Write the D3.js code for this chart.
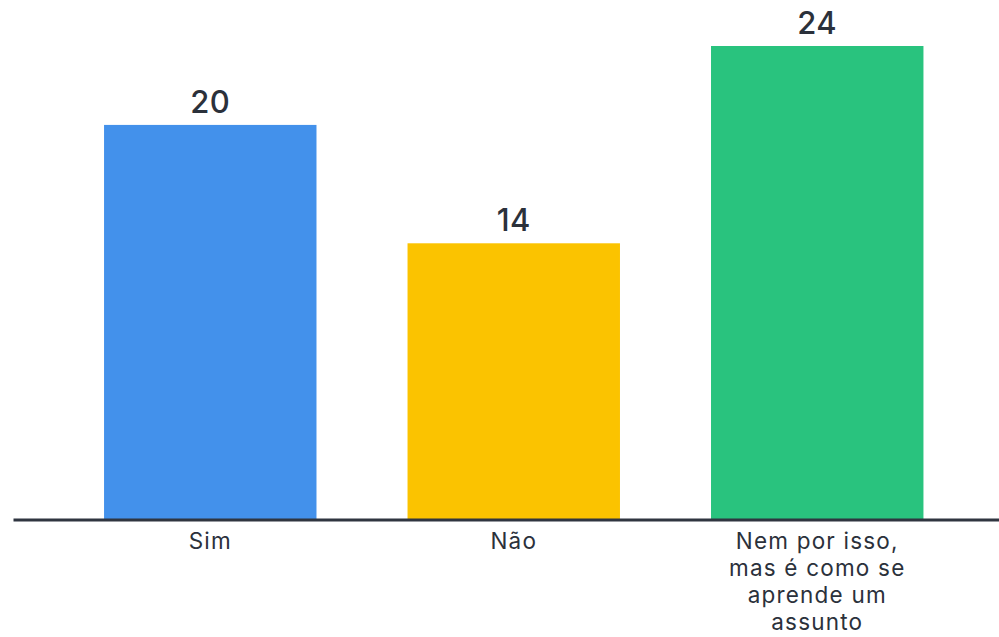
<!DOCTYPE html>
<html>
<head>
<meta charset="utf-8">
<script src="https://cdn.jsdelivr.net/npm/d3@7"></script>
<style>
  html, body { margin: 0; padding: 0; background: #ffffff; }
  svg { display: block; font-family: Inter, "Open Sans", sans-serif; }
</style>
</head>
<body>
<svg id="chart" width="999" height="637"></svg>
<script>
// Responses per answer
const categories = ["Sim", "Não", "Nem por isso, mas é como se aprende um assunto"];
const values = [20, 14, 24];
const colors = ["#4391eb", "#fbc300", "#29c37e"];

const svg = d3.select("#chart");
const baseY = 519.5;

const x = d3.scaleBand()
  .domain(categories)
  .range([13, 1014.5])
  .paddingInner(0.3)
  .paddingOuter(0.3);

const y = d3.scaleLinear()
  .domain([0, 24])
  .range([baseY, 46]);

// Bars
svg.append("g")
  .selectAll("rect")
  .data(categories)
  .join("rect")
  .attr("x", d => x(d))
  .attr("width", x.bandwidth())
  .attr("y", (d, i) => y(values[i]))
  .attr("height", (d, i) => baseY - y(values[i]))
  .attr("fill", (d, i) => colors[i]);

// Value labels above bars
svg.append("g")
  .selectAll("text")
  .data(categories)
  .join("text")
  .attr("x", d => x(d) + x.bandwidth() / 2)
  .attr("y", (d, i) => y(values[i]) - 12)
  .attr("text-anchor", "middle")
  .attr("font-size", 31)
  .attr("font-weight", 500)
  .attr("letter-spacing", 0.5)
  .attr("fill", "#2b313b")
  .text((d, i) => values[i]);

// Baseline axis
const axis = svg.append("g")
  .attr("transform", `translate(0,${baseY})`)
  .call(d3.axisBottom(x).tickSize(0).tickSizeOuter(0).tickFormat(""));
axis.select(".domain")
  .attr("stroke", "#2f3540")
  .attr("stroke-width", 3);

// Category labels, wrapped to fit under each bar
const labelGroup = svg.append("g");
const maxWidth = 200;
categories.forEach(cat => {
  const cx = x(cat) + x.bandwidth() / 2;
  const t = labelGroup.append("text")
    .attr("x", cx)
    .attr("y", 549)
    .attr("text-anchor", "middle")
    .attr("font-size", 22.5)
    .attr("letter-spacing", 1.2)
    .attr("fill", "#2b313b");
  const words = cat.split(" ");
  let line = [];
  let tspan = t.append("tspan").attr("x", cx).attr("dy", 0);
  words.forEach(w => {
    line.push(w);
    tspan.text(line.join(" "));
    if (tspan.node().getComputedTextLength() > maxWidth && line.length > 1) {
      line.pop();
      tspan.text(line.join(" "));
      line = [w];
      tspan = t.append("tspan")
        .attr("x", cx)
        .attr("dy", 27)
        .text(w);
    }
  });
});
</script>
</body>
</html>
